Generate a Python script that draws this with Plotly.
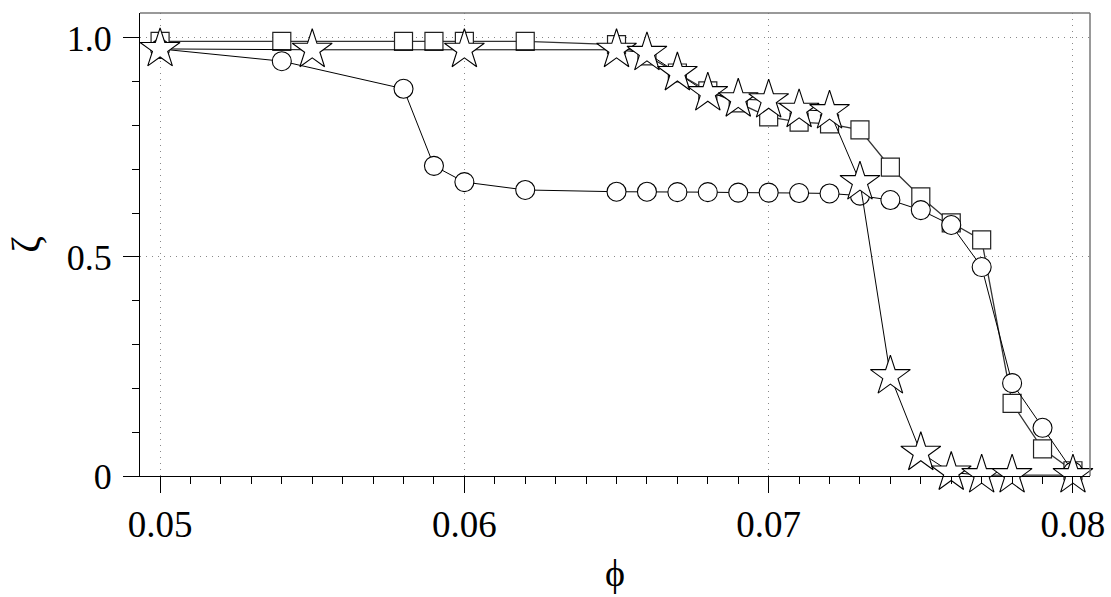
import plotly.graph_objects as go

# data
phi_sq = [0.050, 0.054, 0.058, 0.059, 0.060, 0.062, 0.065, 0.066, 0.067, 0.068, 0.069,
          0.070, 0.071, 0.072, 0.073, 0.074, 0.075, 0.076, 0.077, 0.078, 0.079, 0.080]
zeta_sq = [0.992, 0.992, 0.992, 0.992, 0.992, 0.992, 0.985, 0.959, 0.920, 0.879, 0.852,
           0.820, 0.808, 0.804, 0.790, 0.705, 0.637, 0.578, 0.539, 0.166, 0.062, 0.012]

phi_ci = [0.050, 0.054, 0.058, 0.059, 0.060, 0.062, 0.065, 0.066, 0.067, 0.068, 0.069,
          0.070, 0.071, 0.072, 0.073, 0.074, 0.075, 0.076, 0.077, 0.078, 0.079, 0.080]
zeta_ci = [0.975, 0.947, 0.884, 0.708, 0.671, 0.653, 0.649, 0.649, 0.648, 0.648, 0.647,
           0.647, 0.646, 0.645, 0.640, 0.630, 0.607, 0.573, 0.477, 0.212, 0.110, 0.010]

phi_st = [0.050, 0.055, 0.060, 0.065, 0.066, 0.067, 0.068, 0.069, 0.070, 0.071, 0.072,
          0.073, 0.074, 0.075, 0.076, 0.077, 0.078, 0.080]
zeta_st = [0.975, 0.973, 0.973, 0.973, 0.966, 0.920, 0.874, 0.860, 0.858, 0.836, 0.833,
           0.671, 0.228, 0.053, 0.008, 0.002, 0.002, 0.002]

x_tickvals = [0.05, 0.06, 0.07, 0.08]
x_ticktext = ["0.05", "0.06", "0.07", "0.08"]
y_tickvals = [0, 0.5, 1.0]
y_ticktext = ["0", "0.5", "1.0"]

FONT = "Liberation Serif"

fig = go.Figure()
fig.add_trace(go.Scatter(x=phi_sq, y=zeta_sq, mode="lines+markers",
                         line=dict(color="#333333", width=1.3),
                         marker=dict(symbol="square", size=18, color="white",
                                     line=dict(color="#222222", width=1.2)),
                         showlegend=False, cliponaxis=False))
fig.add_trace(go.Scatter(x=phi_ci, y=zeta_ci, mode="lines+markers",
                         line=dict(color="black", width=1),
                         marker=dict(symbol="circle", size=19, color="white",
                                     line=dict(color="black", width=1.1)),
                         showlegend=False, cliponaxis=False))
fig.add_trace(go.Scatter(x=phi_st, y=zeta_st, mode="lines+markers",
                         line=dict(color="black", width=1),
                         marker=dict(symbol="star", size=30, color="white",
                                     line=dict(color="black", width=1.1)),
                         showlegend=False, cliponaxis=False))

fig.update_layout(
    width=1111, height=597,
    margin=dict(l=140, r=21, t=13, b=121),
    paper_bgcolor="white", plot_bgcolor="white",
    font=dict(family=FONT, color="black"),
    xaxis=dict(
        range=[0.04934, 0.08056], tickvals=x_tickvals, ticktext=x_ticktext,
        automargin=False,
        ticks="outside", ticklen=16, tickwidth=1, tickcolor="black",
        tickfont=dict(size=37, family=FONT),
        showline=True, linecolor="black", linewidth=1, mirror=False,
        showgrid=True, gridcolor="#888888", griddash="1px,5px", gridwidth=1,
        zeroline=False,
        minor=dict(dtick=0.001, tick0=0.05, ticks="outside", ticklen=7,
                   tickcolor="black", showgrid=False),
        title=dict(text="ϕ", font=dict(size=38, family=FONT), standoff=14),
    ),
    yaxis=dict(
        range=[0, 1.057], tickvals=y_tickvals, ticktext=y_ticktext,
        automargin=False,
        ticks="outside", ticklen=16, tickwidth=1, tickcolor="black",
        tickfont=dict(size=36, family=FONT), ticklabelstandoff=4,
        showline=True, linecolor="black", linewidth=1, mirror=False,
        showgrid=True, gridcolor="#888888", griddash="1px,5px", gridwidth=1,
        zeroline=False,
        minor=dict(dtick=0.1, tick0=0, ticks="outside", ticklen=7,
                   tickcolor="black", showgrid=False),
        title=dict(text="ζ", font=dict(size=40, family=FONT), standoff=14),
    ),
    shapes=[
        dict(type="line", xref="paper", yref="paper", x0=0, x1=1, y0=1, y1=1,
             line=dict(color="#777777", width=1.5)),
        dict(type="line", xref="paper", yref="paper", x0=1, x1=1, y0=0, y1=1,
             line=dict(color="#777777", width=1.5)),
    ],
)

fig.write_html("out.html")
